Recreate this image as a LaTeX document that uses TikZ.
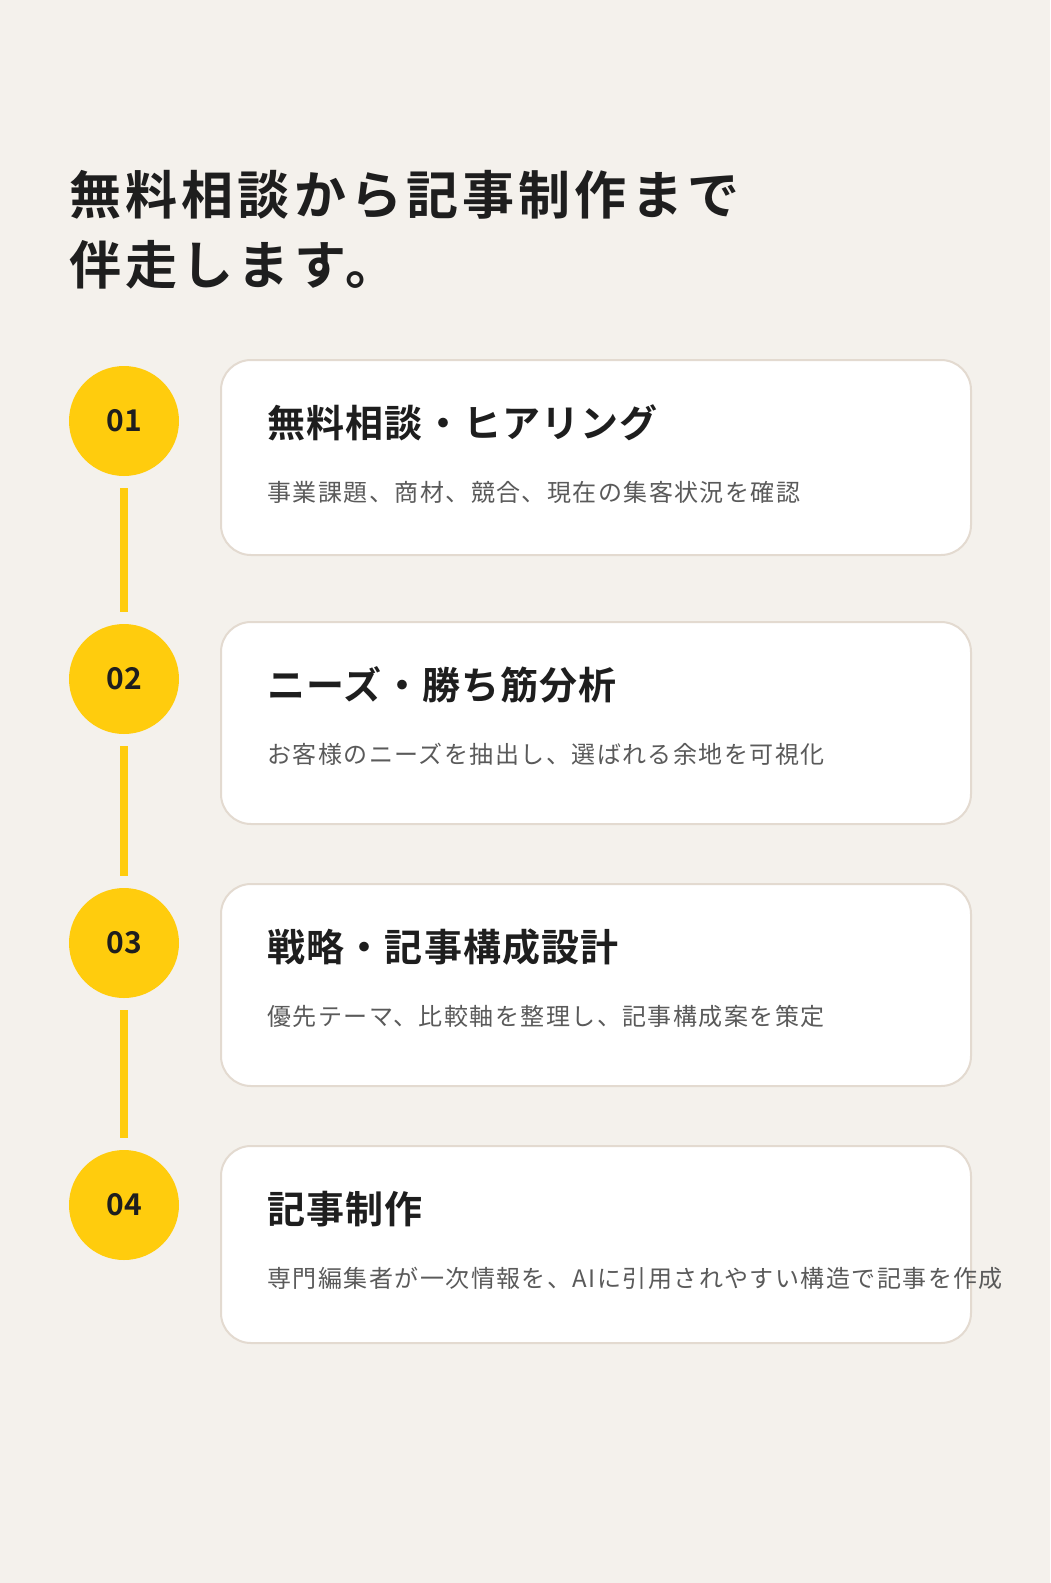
\documentclass[tikz,border=0pt]{standalone}
\usepackage{fontspec}
\newfontfamily\cjk{Noto Sans CJK JP}[BoldFont={* Bold}]
\usetikzlibrary{positioning}
\definecolor{bgcol}{HTML}{F4F1EC}
\definecolor{stepyellow}{HTML}{FFCC0D}
\definecolor{cardline}{HTML}{E3DAD0}
\definecolor{textdark}{HTML}{1E1E1E}
\definecolor{textgray}{HTML}{5A5A5A}
\begin{document}
\begin{tikzpicture}[x=1pt,y=-1pt,
    stepdot/.style={circle,fill=stepyellow,minimum size=110pt,inner sep=0pt,
      font=\cjk\bfseries\fontsize{30}{30}\selectfont,text=textdark},
    card/.style={draw=cardline,line width=2pt,fill=white,rounded corners=30pt},
    cardtitle/.style={anchor=west,font=\cjk\bfseries\fontsize{38}{38}\selectfont\addfontfeature{LetterSpace=3},text=textdark},
    carddesc/.style={anchor=west,font=\cjk\fontsize{24}{24}\selectfont\addfontfeature{LetterSpace=6},text=textgray},
    link/.style={stepyellow,line width=8pt}]
    % background
    \fill[bgcol] (0,0) rectangle (1050,1583);
    \useasboundingbox (0,0) rectangle (1050,1583);

    % title
    \node[anchor=west,font=\cjk\bfseries\fontsize{52}{52}\selectfont\addfontfeature{LetterSpace=8},text=textdark] (title1) at (66,195) {無料相談から記事制作まで};
    \node[anchor=west,font=\cjk\bfseries\fontsize{52}{52}\selectfont\addfontfeature{LetterSpace=8},text=textdark] (title2) at (66,265) {伴走します。};

    % steps
    \foreach \i/\ytop/\ybot/\head/\desc in {
      1/360/555/無料相談・ヒアリング/事業課題、商材、競合、現在の集客状況を確認,
      2/622/824/ニーズ・勝ち筋分析/お客様のニーズを抽出し、選ばれる余地を可視化,
      3/884/1086/戦略・記事構成設計/優先テーマ、比較軸を整理し、記事構成案を策定,
      4/1146/1343/記事制作/専門編集者が一次情報を、AIに引用されやすい構造で記事を作成}{
      \draw[card] (221,\ytop) rectangle (971,\ybot);
      \node[cardtitle] (head\i) at (264,\ytop+63) {\head};
      \node[carddesc] (desc\i) at (264,\ytop+132) {\desc};
    }
    \node[stepdot] (dot1) at (124,421) {01};
    \node[stepdot] (dot2) at (124,679) {02};
    \node[stepdot] (dot3) at (124,943) {03};
    \node[stepdot] (dot4) at (124,1205) {04};

    % links between steps
    \foreach \a/\b in {1/2,2/3,3/4}
      \draw[link] ([yshift=-12pt]dot\a.south) -- ([yshift=12pt]dot\b.north);
\end{tikzpicture}
\end{document}
